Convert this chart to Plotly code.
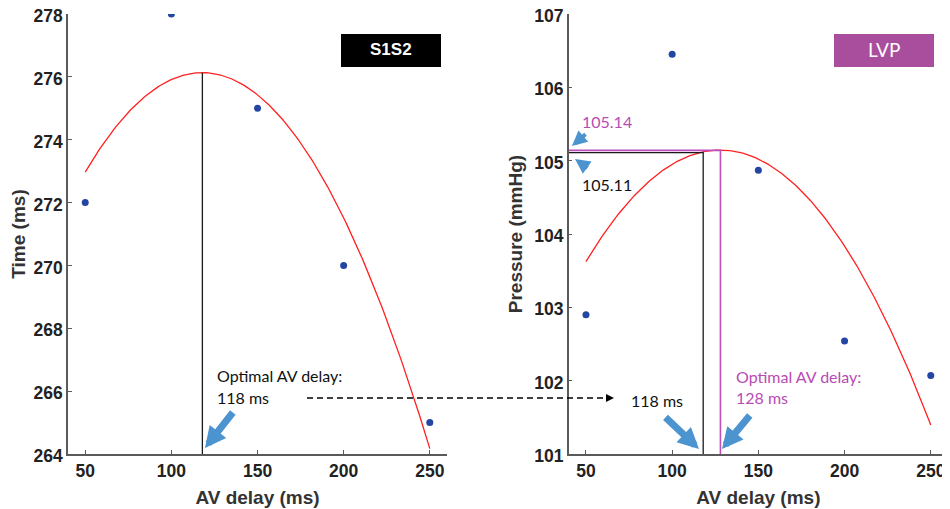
import numpy as np
import plotly.graph_objects as go

# ---------------- data ----------------
av_delay = [50, 100, 150, 200, 250]
s1s2_time = [272, 278, 275, 270, 265]
lvp_pressure = [102.9, 106.45, 104.87, 102.54, 102.07]

x_ticks = [50, 100, 150, 200, 250]
s1s2_ticks = [264, 266, 268, 270, 272, 274, 276, 278]
lvp_ticks = [101, 102, 103, 104, 105, 106, 107]

opt_s1s2 = 118          # optimal AV delay from S1S2 fit
opt_lvp = 128           # optimal AV delay from LVP fit
lvp_peak = 105.14       # LVP at 128 ms
lvp_at_118 = 105.11     # LVP at 118 ms

# quadratic fits (as in original analysis)
p1 = np.polyfit(av_delay, s1s2_time, 2)
p2 = np.polyfit(av_delay, lvp_pressure, 2)
xf = np.linspace(min(av_delay), max(av_delay), 200)
s1s2_peak = float(np.polyval(p1, opt_s1s2))

RED = "#FF2020"
DOT = "#2446A3"
MAG = "#BE4DBE"
MAGTXT = "#B84BB3"
BLUE = "#4B94CF"
AXC = "#5A5A5A"

fig = go.Figure()

# left panel
fig.add_trace(go.Scatter(x=xf, y=np.polyval(p1, xf), mode="lines",
                         line=dict(color=RED, width=1.3), xaxis="x", yaxis="y"))
fig.add_trace(go.Scatter(x=[opt_s1s2, opt_s1s2], y=[s1s2_ticks[0], s1s2_peak], mode="lines",
                         line=dict(color="#1a1a1a", width=1.3), xaxis="x", yaxis="y"))
fig.add_trace(go.Scatter(x=av_delay, y=s1s2_time, mode="markers",
                         marker=dict(color=DOT, size=7), xaxis="x", yaxis="y"))

# right panel
fig.add_trace(go.Scatter(x=xf, y=np.polyval(p2, xf), mode="lines",
                         line=dict(color=RED, width=1.3), xaxis="x2", yaxis="y2"))
fig.add_trace(go.Scatter(x=[40, opt_s1s2, opt_s1s2], y=[lvp_at_118, lvp_at_118, lvp_ticks[0]],
                         mode="lines", line=dict(color="#1a1a1a", width=1.3),
                         xaxis="x2", yaxis="y2"))
fig.add_trace(go.Scatter(x=[40, opt_lvp, opt_lvp], y=[lvp_peak, lvp_peak, lvp_ticks[0]],
                         mode="lines", line=dict(color=MAG, width=1.6),
                         xaxis="x2", yaxis="y2"))
fig.add_trace(go.Scatter(x=av_delay, y=lvp_pressure, mode="markers",
                         marker=dict(color=DOT, size=7), xaxis="x2", yaxis="y2"))

axis_common = dict(showline=True, linecolor=AXC, linewidth=1.5, ticks="inside",
                   ticklen=4, tickcolor=AXC, showgrid=False, zeroline=False,
                   automargin=False, ticklabeloverflow="allow",
                   tickfont=dict(family="Liberation Sans", size=17.5, color="#222", weight="bold"),
                   title_font=dict(family="Liberation Sans", size=19, color="#333", weight="bold"))

# The page body has an 8px margin, so the figure is laid out 8px smaller / shifted.
OFF = 8
FW, FH = 950 - OFF, 509 - OFF
L, T, W, H = 68 - OFF, 14 - OFF, 880.0, 440.0

fig.update_layout(
    width=FW, height=FH,
    margin=dict(l=L, r=FW - L - W, t=T, b=FH - T - H, autoexpand=False),
    paper_bgcolor="white", plot_bgcolor="white",
    showlegend=False,
    xaxis=dict(domain=[0, 0.4307], range=[40, 260], tickvals=x_ticks,
               title=dict(text="AV delay (ms)", standoff=11), anchor="y", **axis_common),
    yaxis=dict(domain=[0, 1], range=[264, 278], tickvals=s1s2_ticks, ticklabelshift=2,
               title=dict(text="Time (ms)", standoff=7), anchor="x", **axis_common),
    xaxis2=dict(domain=[0.569, 1], range=[40, 260], tickvals=x_ticks,
                title=dict(text="AV delay (ms)", standoff=11), anchor="y2", **axis_common),
    yaxis2=dict(domain=[0, 1], range=[101, 107], tickvals=lvp_ticks, ticklabelshift=2,
                title=dict(text="Pressure (mmHg)", standoff=7), anchor="x2", **axis_common),
)

def px(xp):
    return (xp - OFF - L) / W
def py(yp):
    return (T + H - (yp - OFF)) / H

shapes = []
# label boxes
shapes.append(dict(type="rect", xref="paper", yref="paper", x0=px(341), x1=px(441),
                   y0=py(67), y1=py(34), fillcolor="black", line=dict(width=0)))
shapes.append(dict(type="rect", xref="paper", yref="paper", x0=px(834), x1=px(934),
                   y0=py(67), y1=py(34), fillcolor="#A94E9D", line=dict(width=0)))
# dashed connector
shapes.append(dict(type="line", xref="paper", yref="paper", x0=px(307), x1=px(608),
                   y0=py(398), y1=py(398), line=dict(color="black", width=1.6, dash="6px,4px")))
shapes.append(dict(type="path", xref="paper", yref="paper",
                   path=f"M {px(614)} {py(398)} L {px(606)} {py(394)} L {px(606)} {py(402)} Z",
                   fillcolor="black", line=dict(width=0)))
fig.update_layout(shapes=shapes)

LAT = "Lato"
ann = []
def text(x, y, s, color="#111", size=16, family=LAT, xanchor="left"):
    ann.append(dict(x=px(x), y=py(y), xref="paper", yref="paper", text=s, showarrow=False,
                    xanchor=xanchor, yanchor="middle",
                    font=dict(family=family, size=size, color=color)))

text(391, 50, "<b>S1S2</b>", color="white", size=17, family="Liberation Sans", xanchor="center")
text(884, 50, "LVP", color="white", size=19, family=LAT, xanchor="center")
text(215, 375, "Optimal AV delay:")
text(215, 397, "118 ms")
text(629, 400, "118 ms")
text(734, 376, "Optimal AV delay:", color=MAGTXT)
text(734, 397, "128 ms", color=MAGTXT)
text(580, 121, "105.14", color=MAGTXT)
text(580, 184, "105.11")

def arrow(tx, ty, tailx, taily, w, s):
    ann.append(dict(x=px(tx), y=py(ty), xref="paper", yref="paper", showarrow=True,
                    ax=tailx - tx, ay=taily - ty, axref="pixel", ayref="pixel",
                    arrowhead=2, arrowwidth=w, arrowsize=s, arrowcolor=BLUE, text=""))

arrow(205, 448, 234, 411, 7, 0.6)
arrow(699, 449, 664, 416, 7, 0.6)
arrow(722, 449, 751, 414, 7, 0.6)
arrow(572, 146, 587, 133, 4, 0.75)
arrow(575, 159, 589, 169, 4, 0.75)

fig.update_layout(annotations=ann)
fig.write_html("out.html")
